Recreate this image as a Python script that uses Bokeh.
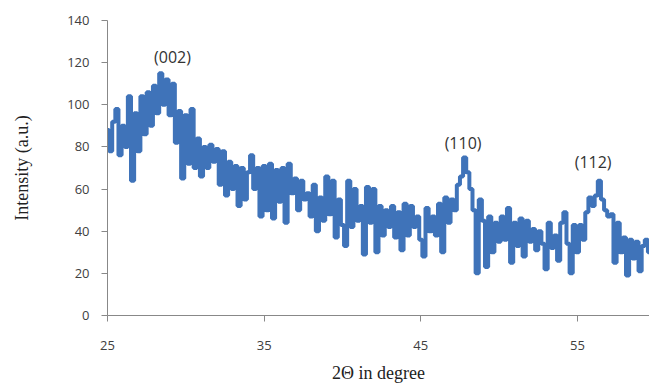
from bokeh.plotting import figure
from bokeh.models import FixedTicker, ColumnDataSource
from bokeh.core.properties import value
from bokeh.embed import file_html
from bokeh.resources import INLINE

# XRD scan: 2-theta grid start and step (degrees)
scan_start = 25.0
scan_step = 0.2

intensity = [
    88, 78, 92, 98, 76, 90,
    80, 104, 64, 96, 78,
    104, 86, 106, 90, 109,
    96, 115, 100, 112, 95,
    110, 82, 97, 65, 95,
    72, 98, 70, 84, 66,
    80, 70, 81, 73, 79,
    62, 78, 57, 73, 60,
    71, 52, 70, 55, 68,
    76, 60, 70, 47, 71,
    50, 72, 46, 69, 54,
    70, 44, 72, 58, 65,
    50, 64, 55, 58, 47,
    62, 40, 56, 45, 66,
    48, 64, 37, 55, 43,
    33, 64, 42, 60, 45,
    52, 29, 61, 44, 60,
    30, 52, 38, 50, 42,
    52, 37, 49, 31, 53,
    38, 52, 42, 47, 36,
    28, 51, 40, 47, 38,
    53, 30, 56, 44, 55,
    50, 62, 66, 75, 68,
    60, 50, 20, 55, 45,
    23, 47, 30, 44, 35,
    47, 36, 51, 25, 44,
    33, 46, 28, 45, 35,
    41, 31, 40, 34, 22,
    44, 32, 38, 26, 44,
    49, 34, 20, 43, 30,
    43, 36, 49, 56, 52,
    57, 64, 55, 50, 47,
    48, 25, 44, 30, 37,
    19, 36, 27, 35, 21,
    33, 36, 30,
]
two_theta = [round(scan_start + i * scan_step, 2) for i in range(len(intensity))]

x_ticks = [25, 35, 45, 55]
y_ticks = [0, 20, 40, 60, 80, 100, 120, 140]

peak_labels = ["(002)", "(110)", "(112)"]
peak_label_x = [29.15, 47.7, 56.0]
peak_label_y = [122.5, 82.0, 73.0]

p = figure(width=649, height=385, output_backend="svg", toolbar_location=None,
           x_range=(25, 59.6), y_range=(0, 140),
           min_border_left=107, min_border_right=0, min_border_top=20, min_border_bottom=69)
p.outline_line_color = None
p.grid.grid_line_color = None
p.background_fill_color = "white"

p.step(two_theta, intensity, mode="center", line_color="#3f73b9", line_width=4)

src = ColumnDataSource(dict(x=peak_label_x, y=peak_label_y, t=peak_labels))
p.text(x="x", y="y", text="t", source=src, text_align="center", text_baseline="middle",
       text_font=value("Open Sans"), text_font_size="16px", text_color="#333333")

for ax in (p.xaxis[0], p.yaxis[0]):
    ax.axis_line_color = "#888888"
    ax.major_tick_line_color = "#888888"
    ax.minor_tick_line_color = None
    ax.major_tick_in = 0
    ax.major_tick_out = 6
    ax.major_label_text_font = "Open Sans"
    ax.major_label_text_font_size = "13px"
    ax.major_label_text_color = "#404040"
    ax.axis_label_text_font = "Liberation Serif"
    ax.axis_label_text_font_style = "normal"
    ax.axis_label_text_color = "#222222"

p.xaxis.ticker = FixedTicker(ticks=x_ticks)
p.yaxis.ticker = FixedTicker(ticks=y_ticks)
p.xaxis.major_label_standoff = 19
p.yaxis.major_label_standoff = 12
p.xaxis.axis_label = "2Θ in degree"
p.yaxis.axis_label = "Intensity (a.u.)"
p.xaxis.axis_label_text_font_size = "18px"
p.yaxis.axis_label_text_font_size = "18px"
p.xaxis.axis_label_standoff = 10
p.yaxis.axis_label_standoff = 32

open("out.html", "w").write(file_html(p, INLINE))
